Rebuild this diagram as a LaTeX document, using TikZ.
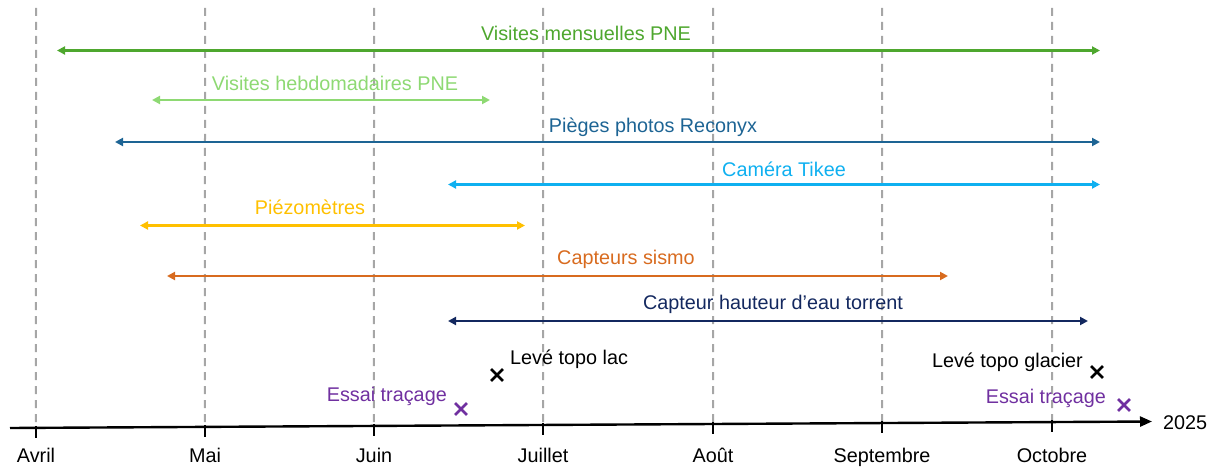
\documentclass[tikz,border=0pt]{standalone}
\usepackage{fontspec}
\setmainfont{Liberation Sans}
\usetikzlibrary{arrows.meta,calc,shapes.misc}
\definecolor{grille}{HTML}{A6A6A6}
\definecolor{vert}{HTML}{4EA72E}
\definecolor{vertclair}{HTML}{8ED973}
\definecolor{bleu}{HTML}{1D6494}
\definecolor{ciel}{HTML}{0FB0F0}
\definecolor{jaune}{HTML}{FFC000}
\definecolor{orange}{HTML}{D86B1F}
\definecolor{marine}{HTML}{13285F}
\definecolor{violet}{HTML}{7030A0}
\tikzset{
  span/.style={<->, >={Triangle[length=8pt,width=8pt]}, line width=2.2pt},
  axe/.style={->, >={Triangle[length=12pt,width=10pt]}, line width=2.4pt, draw=black},
  grid/.style={draw=grille, line width=2pt, dash pattern=on 8pt off 6pt},
  lbl/.style={font=\fontsize{19.8}{23}\selectfont, inner sep=0pt},
  mois/.style={lbl, text=black, anchor=base},
  croix/.style={cross out, draw, minimum size=9pt, inner sep=0pt, line width=2.8pt}
}
\begin{document}
\begin{tikzpicture}[x=1pt, y=-1pt]
\useasboundingbox (0,0) rectangle (1218,468);
% axe du temps, legerement incline
\coordinate (ax0) at (10,428);
\coordinate (ax1) at (1152,421.5);
\foreach \x/\m [count=\i] in {36/Avril,205/Mai,374/Juin,543/Juillet,713/Août,882/Septembre,1052/Octobre} {
  \coordinate (t\i) at ($(ax0)!{(\x-10)/1142}!(ax1)$);
  \draw[grid] (\x,8) -- (t\i);
  \draw[line width=2.4pt] (t\i) ++(0,-2) -- ++(0,12);
  \node[mois] (m\i) at (\x,462) {\m};
}
\draw[axe] (ax0) -- (ax1);
\node[lbl, anchor=west] (annee) at (1163,423) {2025};

% periodes de suivi
\coordinate (mens-g) at (57,50.5);
\coordinate (mens-d) at (1100,50.5);
\draw[span, vert] (mens-g) -- (mens-d);
\node[lbl, text=vert] (mens) at (586,33) {Visites mensuelles PNE};

\coordinate (hebdo-g) at (152,100);
\coordinate (hebdo-d) at (490,100);
\draw[span, vertclair] (hebdo-g) -- (hebdo-d);
\node[lbl, text=vertclair] (hebdo) at (335,83) {Visites hebdomadaires PNE};

\coordinate (recon-g) at (115,142);
\coordinate (recon-d) at (1100,142);
\draw[span, bleu] (recon-g) -- (recon-d);
\node[lbl, text=bleu] (recon) at (653,127) {Pièges photos Reconyx};

\coordinate (tikee-g) at (448,184.5);
\coordinate (tikee-d) at (1100,184.5);
\draw[span, ciel] (tikee-g) -- (tikee-d);
\node[lbl, text=ciel] (tikee) at (784,169) {Caméra Tikee};

\coordinate (piezo-g) at (140,225.5);
\coordinate (piezo-d) at (525,225.5);
\draw[span, jaune] (piezo-g) -- (piezo-d);
\node[lbl, text=jaune] (piezo) at (310,207) {Piézomètres};

\coordinate (sismo-g) at (167,276);
\coordinate (sismo-d) at (948,276);
\draw[span, orange] (sismo-g) -- (sismo-d);
\node[lbl, text=orange] (sismo) at (626,259) {Capteurs sismo};

\coordinate (eau-g) at (448,321);
\coordinate (eau-d) at (1088,321);
\draw[span, marine] (eau-g) -- (eau-d);
\node[lbl, text=marine] (eau) at (773,304) {Capteur hauteur d’eau torrent};

% campagnes ponctuelles
\node[croix, draw=black] (lac) at (497,375) {};
\node[lbl, anchor=west] (lac-txt) at (510,359) {Levé topo lac};
\node[croix, draw=violet] (trac1) at (461,409) {};
\node[lbl, text=violet, anchor=east] (trac1-txt) at (447,396) {Essai traçage};
\node[croix, draw=black] (glacier) at (1097,372) {};
\node[lbl, anchor=east] (glacier-txt) at (1083,362) {Levé topo glacier};
\node[croix, draw=violet] (trac2) at (1124,405) {};
\node[lbl, text=violet, anchor=east] (trac2-txt) at (1106,398) {Essai traçage};
\end{tikzpicture}
\end{document}
